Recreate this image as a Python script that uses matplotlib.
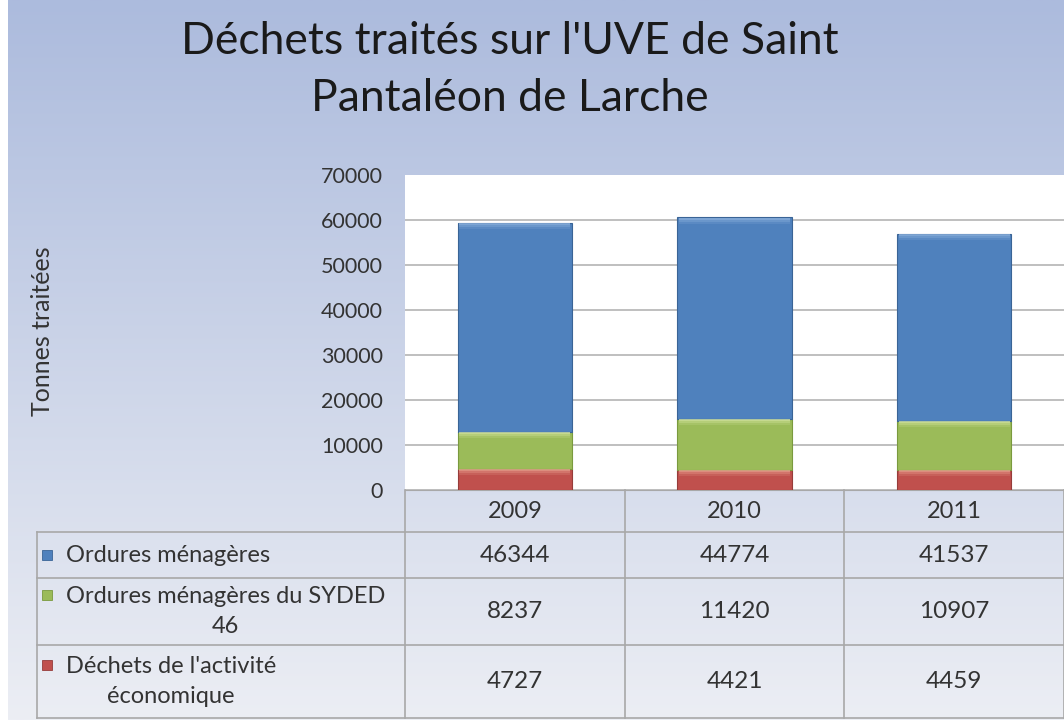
import numpy as np
import matplotlib.pyplot as plt
from matplotlib import transforms
from matplotlib.patches import Rectangle

plt.rcParams['font.family'] = ['Lato', 'DejaVu Sans']

# data
years = ['2009', '2010', '2011']
labels = ['Ordures ménagères', 'Ordures ménagères du SYDED\n46', "Déchets de l'activité\néconomique"]
om = [46344, 44774, 41537]
syded = [8237, 11420, 10907]
dae = [4727, 4421, 4459]

colors = ['#4F81BD', '#9BBB59', '#C0504D']
lights = ['#8EB2DE', '#D6E6A2', '#E8A290']
edges = ['#3A6496', '#7A9A3E', '#963C3A']

W, H = 1064, 720
fig = plt.figure(figsize=(W / 100, H / 100), dpi=100, facecolor='white')


def fx(px):
    return px / W


def fy(py):
    return 1 - py / H


# gradient background
bg = fig.add_axes([fx(8), 0, 1 - fx(8), 1], zorder=-10)
c_top = np.array([172, 187, 221]) / 255
c_bot = np.array([236, 238, 244]) / 255
t = np.linspace(0, 1, 256)[:, None]
grad = c_top + (c_bot - c_top) * t
bg.imshow(grad[:, None, :], aspect='auto', extent=[0, 1, 0, 1])
bg.axis('off')

ax = fig.add_axes([fx(405), fy(490), 1 - fx(405), (490 - 175) / H])
ax.set_facecolor('white')
ax.set_xlim(-0.5, 2.5)
ax.set_ylim(0, 70000)
ax.set_yticks(range(0, 70001, 10000))
ax.yaxis.grid(True, color='#B4B4B4', linewidth=1.2)
ax.set_axisbelow(True)
ax.get_ygridlines()[-1].set_visible(False)
ax.set_xticks([])
ax.tick_params(axis='y', length=0, pad=16, labelsize=15.5, labelcolor='#333333')
for s in ['top', 'right', 'left']:
    ax.spines[s].set_visible(False)
ax.spines['bottom'].set_color('#A8A8A8')

x = np.arange(len(years))
stack = [dae, syded, om]
bottom = np.zeros(len(years))
order = [2, 1, 0]  # colour index for each stacked series
bw = 0.52
for vals, ci in zip(stack, order):
    vals = np.array(vals)
    ax.bar(x, vals, bw, bottom=bottom, color=colors[ci], edgecolor=edges[ci],
           linewidth=0.8, zorder=3)
    # light bevel at the top of each segment
    for k, a in enumerate([0.75, 0.45, 0.2]):
        h = 450
        ax.bar(x, h, bw * 0.97, bottom=bottom + vals - (k + 1) * h - 60,
               color=lights[ci], alpha=a, linewidth=0, zorder=4)
    bottom = bottom + vals

fig.text(fx(43), fy(331), 'Tonnes traitées', rotation=90, ha='center', va='center',
         fontsize=18, color='#333333')

fig.text(fx(510), fy(70), "Déchets traités sur l'UVE de Saint\nPantaléon de Larche",
         ha='center', va='center', fontsize=32, color='#1A1A1A', linespacing=1.5)

# data table under the chart
trans = transforms.blended_transform_factory(ax.transData, fig.transFigure)
lc = '#A8A8A8'
row_lines = [532, 578, 645, 718]
for xv in [-0.5, 0.5, 1.5, 2.5]:
    ax.plot([xv, xv], [fy(490), fy(718)], color=lc, lw=1.2, transform=trans, clip_on=False)
for yl in row_lines:
    ax.plot([fx(37), 1], [fy(yl), fy(yl)], color=lc, lw=1.2, transform=fig.transFigure, clip_on=False)
ax.plot([fx(37), fx(37)], [fy(532), fy(718)], color=lc, lw=1.2, transform=fig.transFigure, clip_on=False)

for i, yr in enumerate(years):
    ax.text(i, fy(511), yr, transform=trans, ha='center', va='center', fontsize=17, color='#333333')

table_vals = [om, syded, dae]
for r in range(3):
    yc = (row_lines[r] + row_lines[r + 1]) / 2
    for i, v in enumerate(table_vals[r]):
        ax.text(i, fy(yc), str(v), transform=trans, ha='center', va='center',
                fontsize=17.5, color='#333333')
    fig.text(fx(66), fy(yc), labels[r], ha='left', va='center', multialignment='center',
             fontsize=17, color='#333333', linespacing=1.55)
    nl = labels[r].count('\n') + 1
    my = yc - (nl - 1) * 16.5
    fig.add_artist(Rectangle((fx(42), fy(my + 5)), fx(10), 10 / H, transform=fig.transFigure,
                             facecolor=colors[r], edgecolor=edges[r], lw=0.6))

fig.savefig('out.png', dpi=100, facecolor=fig.get_facecolor())
